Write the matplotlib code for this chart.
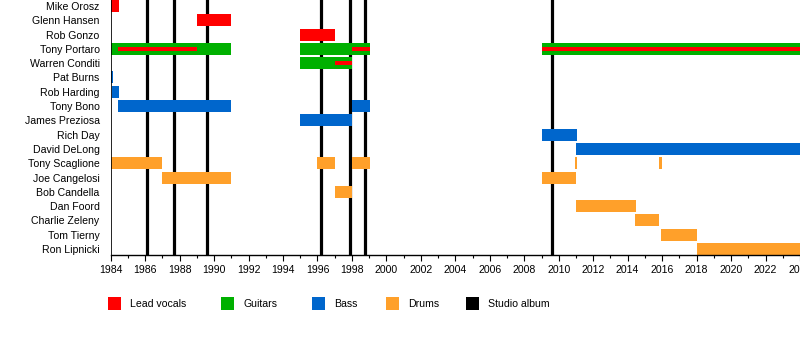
import matplotlib
matplotlib.use("Agg")
import matplotlib.pyplot as plt
from matplotlib.patches import Rectangle

plt.rcParams['font.family'] = ['Liberation Sans', 'DejaVu Sans']

members = ["Mike Orosz", "Glenn Hansen", "Rob Gonzo", "Tony Portaro", "Warren Conditi",
           "Pat Burns", "Rob Harding", "Tony Bono", "James Preziosa", "Rich Day",
           "David DeLong", "Tony Scaglione", "Joe Cangelosi", "Bob Candella",
           "Dan Foord", "Charlie Zeleny", "Tom Tierny", "Ron Lipnicki"]

END = 2024.0
# (member, start, end, role)
main_spans = [
    ("Mike Orosz", 1984.0, 1984.46, "vocals"),
    ("Glenn Hansen", 1989.0, 1991.0, "vocals"),
    ("Rob Gonzo", 1995.0, 1997.0, "vocals"),
    ("Tony Portaro", 1984.0, 1991.0, "guitars"),
    ("Tony Portaro", 1995.0, 1999.05, "guitars"),
    ("Tony Portaro", 2009.0, END, "guitars"),
    ("Warren Conditi", 1995.0, 1998.0, "guitars"),
    ("Pat Burns", 1984.0, 1984.12, "bass"),
    ("Rob Harding", 1984.06, 1984.46, "bass"),
    ("Tony Bono", 1984.42, 1991.0, "bass"),
    ("Tony Bono", 1998.0, 1999.05, "bass"),
    ("James Preziosa", 1995.0, 1998.0, "bass"),
    ("Rich Day", 2009.0, 2011.05, "bass"),
    ("David DeLong", 2011.0, END, "bass"),
    ("Tony Scaglione", 1984.0, 1987.0, "drums"),
    ("Tony Scaglione", 1996.0, 1997.0, "drums"),
    ("Tony Scaglione", 1998.0, 1999.05, "drums"),
    ("Tony Scaglione", 2010.95, 2011.05, "drums"),
    ("Tony Scaglione", 2015.8, 2016.0, "drums"),
    ("Joe Cangelosi", 1986.95, 1991.0, "drums"),
    ("Joe Cangelosi", 2009.0, 2011.0, "drums"),
    ("Bob Candella", 1997.0, 1998.0, "drums"),
    ("Dan Foord", 2011.0, 2014.47, "drums"),
    ("Charlie Zeleny", 2014.4, 2015.8, "drums"),
    ("Tom Tierny", 2015.95, 2018.05, "drums"),
    ("Ron Lipnicki", 2018.0, END, "drums"),
]
# secondary role (thin inner bar)
inner_spans = [
    ("Tony Portaro", 1984.42, 1989.0, "vocals"),
    ("Tony Portaro", 1998.0, 1999.05, "vocals"),
    ("Tony Portaro", 2009.0, END, "vocals"),
    ("Warren Conditi", 1997.0, 1998.0, "vocals"),
]
albums = [1986.1, 1987.68, 1989.6, 1996.18, 1997.9, 1998.73, 2009.62]

legend_keys = ["vocals", "guitars", "bass", "drums", "album"]
legend_labels = ["Lead vocals", "Guitars", "Bass", "Drums", "Studio album"]
colors = {"vocals": "#ff0000", "guitars": "#00b000", "bass": "#0066cc",
          "drums": "#ffa02a", "album": "#000000"}

W, H = 800, 355
fig = plt.figure(figsize=(8, 3.55), dpi=100)
ax = fig.add_axes([110.7 / W, 100 / H, 1 - 110.7 / W, 255 / H])

ypos = {m: i for i, m in enumerate(members)}

for a in albums:
    ax.axvline(a, color="black", lw=2.3, zorder=1)

for m, s, e, r in main_spans:
    ax.barh(ypos[m], e - s, left=s, height=0.84, color=colors[r], lw=0, zorder=2)
for m, s, e, r in inner_spans:
    ax.barh(ypos[m], e - s, left=s, height=0.28, color=colors[r], lw=0, zorder=3)

ax.set_xlim(1984, END)
ax.set_ylim(len(members) - 1 + 0.42, -0.42)
ax.set_yticks(range(len(members)))
ax.set_yticklabels(members, fontsize=7.6)
ax.tick_params(axis="y", length=0, pad=8)
ax.set_xticks(range(1984, 2025, 2))
ax.set_xticks(range(1984, 2025), minor=True)
ax.tick_params(axis="x", which="major", length=4, width=0.8, labelsize=7.6, pad=3)
ax.tick_params(axis="x", which="minor", length=2.5, width=0.8)
for sp in ["top", "right"]:
    ax.spines[sp].set_visible(False)
ax.spines["left"].set_linewidth(0.6)
ax.spines["bottom"].set_linewidth(1.0)

# legend drawn manually in figure pixel positions
sq_x = [108, 221, 312, 386, 466]
for k, lab, x in zip(legend_keys, legend_labels, sq_x):
    fig.patches.append(Rectangle((x / W, 1 - 310 / H), 13 / W, 13 / H,
                                 transform=fig.transFigure, facecolor=colors[k],
                                 edgecolor="none"))
    fig.text((x + 22) / W, 1 - 304 / H, lab, fontsize=7.6, va="center", ha="left")

fig.savefig("out.png", dpi=100)
